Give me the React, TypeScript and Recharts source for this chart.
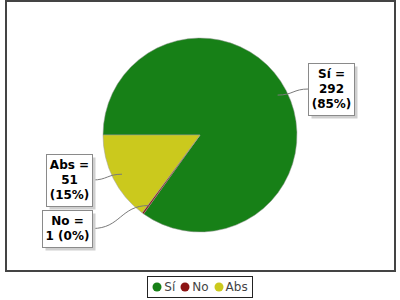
import { PieChart, Pie, Cell, Legend } from "recharts";

const categories = ["Sí", "No", "Abs"];
const votes = [292, 1, 51];
const colors = ["#178017", "#8c1414", "#cbc91d"];

const data = categories.map((name, i) => ({ name, value: votes[i] }));
const total = votes.reduce((a, b) => a + b, 0);

const CX = 200;
const CY = 135;
const R = 97;
const RAD = Math.PI / 180;
const LABEL_FONT = "bold 12px 'DejaVu Sans'";
const LINE_H = 15;

let ctx: CanvasRenderingContext2D | null = null;
function textWidth(s: string) {
  if (!ctx) ctx = document.createElement("canvas").getContext("2d");
  if (!ctx) return s.length * 7.5;
  ctx.font = LABEL_FONT;
  return ctx.measureText(s).width;
}

// "Sí =" on its own line, the rest wrapped to a max width
function labelLines(i: number) {
  const pct = Math.round((votes[i] / total) * 100);
  const words = [`${votes[i]}`, `(${pct}%)`];
  const lines = [`${categories[i]} =`];
  let cur = "";
  for (const w of words) {
    const next = cur ? cur + " " + w : w;
    if (cur && textWidth(next) > 50) {
      lines.push(cur);
      cur = w;
    } else cur = next;
  }
  lines.push(cur);
  return lines;
}

function layoutLabels() {
  let cum = 0;
  const items = votes.map((v, i) => {
    const mid = 180 - ((cum + v / 2) / total) * 360;
    cum += v;
    const lines = labelLines(i);
    const w = Math.round(Math.max(...lines.map(textWidth)) + 6);
    const h = lines.length * LINE_H + 7;
    const right = Math.cos(mid * RAD) >= 0;
    const yc = CY - Math.sin(mid * RAD) * (R + 4);
    return { mid, lines, w, h, right, y: Math.round(yc - h / 2) };
  });
  // push overlapping boxes down, per side
  for (const side of [true, false]) {
    const list = items.filter((d) => d.right === side).sort((a, b) => a.y - b.y);
    for (let k = 1; k < list.length; k++) {
      const minY = list[k - 1].y + list[k - 1].h + 4;
      if (list[k].y < minY) list[k].y = minY;
    }
  }
  return items;
}

const ChartLegend = () => (
  <div style={{ display: "flex", justifyContent: "center" }}>
    <div
      style={{
        display: "flex",
        alignItems: "center",
        border: "1px solid #222",
        padding: "2px 4px",
        height: 16,
        fontFamily: "'DejaVu Sans'",
        fontSize: 12,
        color: "#444",
        background: "#fff",
      }}
    >
      {categories.map((c, i) => (
        <span key={c} style={{ display: "flex", alignItems: "center", marginRight: i < categories.length - 1 ? 5 : 0 }}>
          <svg width={10} height={10} style={{ marginRight: 2 }}>
            <circle cx={5} cy={5} r={4.5} fill={colors[i]} />
          </svg>
          {c}
        </span>
      ))}
    </div>
  </div>
);

export default function App() {
  const layout = layoutLabels();

  const renderLabel = (props: any) => {
    const d = layout[props.index];
    if (!d) return null;
    const bx = (d.right ? CX + R + 11 : CX - R - 11 - d.w) + 0.5;
    const top = d.y + 0.5;
    const edgeX = d.right ? bx : bx + d.w;
    const by = d.y + d.h / 2;
    const ax = CX + Math.cos(d.mid * RAD) * R * 0.9;
    const ay = CY - Math.sin(d.mid * RAD) * R * 0.9;
    const mx = (ax + edgeX) / 2;
    return (
      <g key={`lbl-${props.index}`}>
        <path d={`M${ax},${ay} C${mx},${ay} ${mx},${by} ${edgeX},${by}`} fill="none" stroke="#7a7a7a" strokeWidth={1} />
        <rect x={bx + 3} y={top + 3} width={d.w} height={d.h} fill="#cfcfcf" />
        <rect x={bx} y={top} width={d.w} height={d.h} fill="#fff" stroke="#8a8a8a" strokeWidth={1} />
        <text textAnchor="middle" fontFamily="'DejaVu Sans'" fontWeight="bold" fontSize={12} fill="#000">
          {d.lines.map((l, k) => (
            <tspan key={k} x={bx + d.w / 2} y={d.y + 15 + k * LINE_H}>
              {l}
            </tspan>
          ))}
        </text>
      </g>
    );
  };

  return (
    <div style={{ position: "absolute", left: 0, top: 0, width: 400, height: 300, background: "#fff" }}>
      <div
        style={{
          position: "absolute",
          left: 5,
          top: 0,
          width: 391,
          height: 272,
          border: "2px solid #444",
          boxSizing: "border-box",
        }}
      />
      <PieChart width={400} height={300} margin={{ top: 0, right: 0, bottom: 0, left: 0 }} style={{ position: "absolute", left: 0, top: 0 }}>
        <Pie
          data={data}
          dataKey="value"
          nameKey="name"
          cx={CX}
          cy={CY}
          outerRadius={R}
          startAngle={180}
          endAngle={-180}
          stroke="#9a9a9a"
          strokeWidth={0.5}
          label={renderLabel}
          labelLine={false}
          isAnimationActive={false}
        >
          {data.map((d, i) => (
            <Cell key={d.name} fill={colors[i]} />
          ))}
        </Pie>
        <Legend content={ChartLegend} wrapperStyle={{ position: "absolute", top: 276, left: 0, width: 400 }} />
      </PieChart>
    </div>
  );
}
